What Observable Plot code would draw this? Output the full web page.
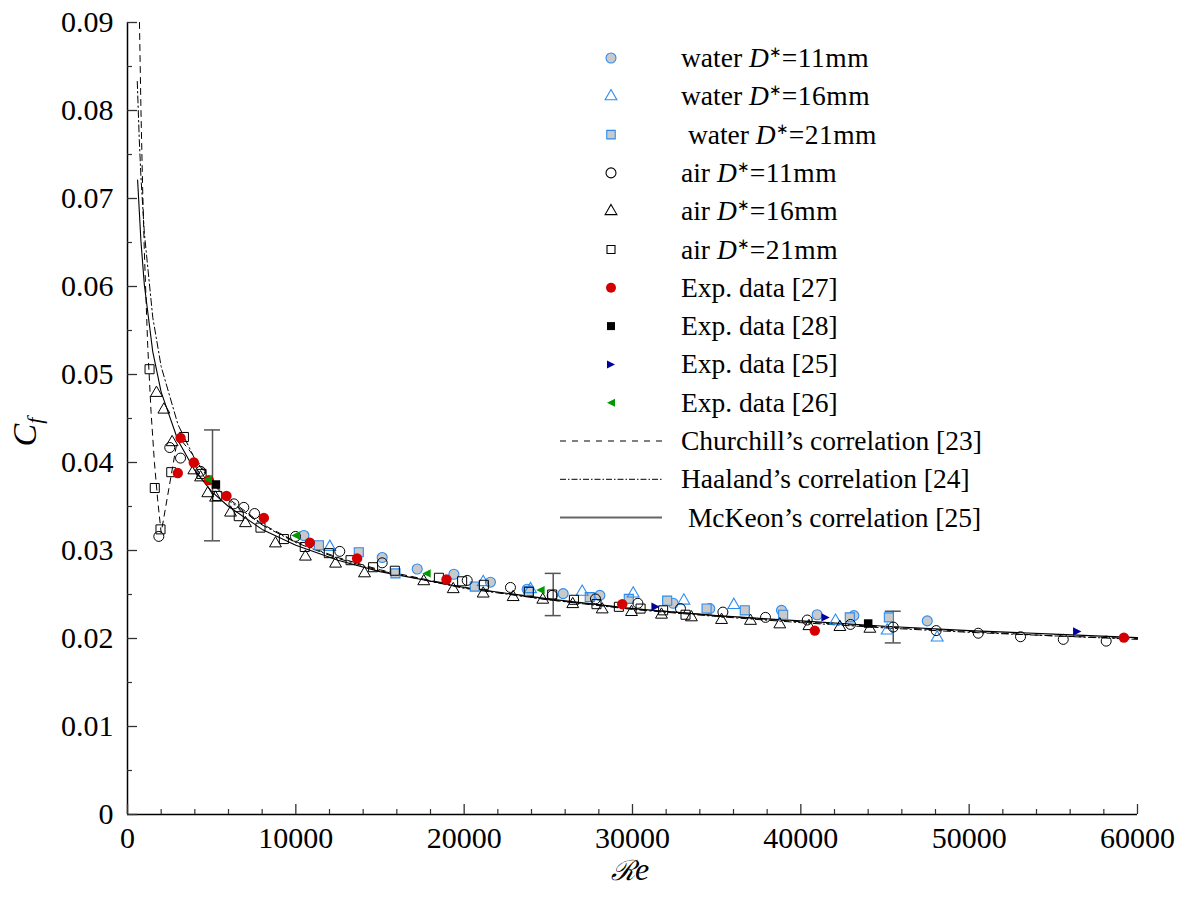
<!DOCTYPE html>
<html><head><meta charset="utf-8">
<script src="https://cdn.jsdelivr.net/npm/d3@7"></script>
<script src="https://cdn.jsdelivr.net/npm/@observablehq/plot@0.6"></script>
<style>body{margin:0;background:#fff}#chart{width:1183px;height:900px}</style>
</head><body><div id="chart"></div>
<script>
// ---------------- data (Re, Cf) ----------------
const waterD11 = [[10480,0.0317],[15130,0.0292],[17210,0.0279],[19390,0.0273],[21560,0.0264],[23740,0.0256],[25880,0.0251],[28060,0.0249],[32420,0.0240],[34590,0.0234],[38850,0.0232],[40970,0.0227],[43150,0.0226],[47510,0.0220]];
const waterD16 = [[12020,0.0304],[21130,0.0264],[23940,0.0256],[27010,0.0253],[30040,0.0251],[33050,0.0243],[36020,0.0238],[42060,0.0220],[45130,0.0209],[48100,0.0201]];
const waterD21 = [[11370,0.0306],[13740,0.0298],[15920,0.0274],[20630,0.0259],[23840,0.0254],[27460,0.0247],[29780,0.0245],[32060,0.0243],[34400,0.0234],[36670,0.0232],[38950,0.0227],[42910,0.0224],[45230,0.0224]];
const airD11 = [[1860,0.0316],[2510,0.0417],[3150,0.0405],[4340,0.0390],[6320,0.0353],[6910,0.0349],[7550,0.0342],[9980,0.0316],[12610,0.0299],[15130,0.0286],[20180,0.0266],[22750,0.0258],[25230,0.0249],[27800,0.0245],[30320,0.0240],[32850,0.0234],[35370,0.0230],[37900,0.0224],[40380,0.0221],[42950,0.0216],[45490,0.0213],[48040,0.0209],[50540,0.0206],[53050,0.0202],[55590,0.0199],[58140,0.0197]];
const airD16 = [[1720,0.0479],[2160,0.0460],[2650,0.0423],[3940,0.0391],[4340,0.0383],[4770,0.0365],[5230,0.0360],[6120,0.0343],[7010,0.0331],[8790,0.0308],[10570,0.0293],[12360,0.0285],[14080,0.0274],[17600,0.0265],[19350,0.0256],[21130,0.0251],[22910,0.0247],[24670,0.0244],[26450,0.0239],[28200,0.0233],[29940,0.0230],[31720,0.0227],[33500,0.0224],[35290,0.0221],[37010,0.0220],[38750,0.0216],[40480,0.0214],[42320,0.0213],[44100,0.0211]];
const airD21 = [[1310,0.0506],[1620,0.0371],[1960,0.0324],[2600,0.0389],[3350,0.0429],[4400,0.0387],[5330,0.0362],[6610,0.0339],[7900,0.0326],[9290,0.0313],[10530,0.0304],[11960,0.0297],[13250,0.0289],[14590,0.0281],[15880,0.0277],[18500,0.0269],[19880,0.0265],[21170,0.0261],[23840,0.0253],[25230,0.0250],[26520,0.0244],[27860,0.0239],[29190,0.0236],[30480,0.0234],[31820,0.0232],[33150,0.0227]];
const exp27 = [[2990,0.0388],[3150,0.0428],[3940,0.0400],[4830,0.0380],[5880,0.0362],[8100,0.0337],[10830,0.0309],[13640,0.0291],[18950,0.0267],[29390,0.0239],[40830,0.0209],[59190,0.0201]];
const exp28 = [[5250,0.0375],[44000,0.0217]];
const exp25 = [[31370,0.0236],[41470,0.0224],[56420,0.0208]];
const exp26 = [[4770,0.0381],[9980,0.0317],[17760,0.0274],[24530,0.0255]];

const errRe   = [5050, 25290, 45490];
const errLow  = [0.0311, 0.0226, 0.0195];
const errHigh = [0.0437, 0.0274, 0.0231];

const churchill = [[711,0.0900],[800,0.0800],[900,0.0711],[1000,0.0640],[1200,0.0533],[1400,0.0457],[1600,0.0400],[1800,0.0356],[2000,0.0320],[3000,0.0430],[4000,0.0406],[5000,0.0379],[6000,0.0359],[8000,0.0330],[10000,0.0310],[12500,0.0292],[15000,0.0278],[20000,0.0258],[25000,0.0244],[30000,0.0234],[35000,0.0226],[40000,0.0219],[45000,0.0213],[50000,0.0208],[55000,0.0203],[60000,0.0200]];
const haaland = [[580,0.0833],[700,0.0767],[800,0.0724],[1000,0.0661],[1500,0.0565],[2000,0.0509],[3000,0.0443],[4000,0.0404],[5000,0.0377],[6000,0.0357],[8000,0.0329],[10000,0.0309],[12500,0.0291],[15000,0.0277],[20000,0.0257],[25000,0.0244],[30000,0.0233],[35000,0.0225],[40000,0.0218],[45000,0.0212],[50000,0.0207],[55000,0.0203],[60000,0.0199]];
const mckeon = [[600,0.0721],[800,0.0651],[1000,0.0602],[1500,0.0526],[2000,0.0480],[3000,0.0425],[4000,0.0391],[5000,0.0367],[6000,0.0350],[8000,0.0324],[10000,0.0306],[12500,0.0289],[15000,0.0276],[20000,0.0258],[25000,0.0245],[30000,0.0234],[35000,0.0226],[40000,0.0220],[45000,0.0214],[50000,0.0209],[55000,0.0205],[60000,0.0201]];

const xMajor = [0,10000,20000,30000,40000,50000,60000];
const xMinor = [2000,4000,6000,8000,12000,14000,16000,18000,22000,24000,26000,28000,32000,34000,36000,38000,42000,44000,46000,48000,52000,54000,56000,58000];
const yMajor = [0,0.01,0.02,0.03,0.04,0.05,0.06,0.07,0.08,0.09];
const yMinor = [0.005,0.015,0.025,0.035,0.045,0.055,0.065,0.075,0.085];

const legendLabels = [
  ["water ","D","∗","=11mm"],["water ","D","∗","=16mm"],[" water ","D","∗","=21mm"],
  ["air ","D","∗","=11mm"],["air ","D","∗","=16mm"],["air ","D","∗","=21mm"],
  ["Exp. data [27]"],["Exp. data [28]"],["Exp. data [25]"],["Exp. data [26]"],
  ["Churchill’s correlation [23]"],["Haaland’s correlation [24]"],[" McKeon’s correlation [25]"]
];

// ---------------- chart ----------------
const W = 1183, H = 900, mL = 127, mR = 46, mT = 22, mB = 86;
const plotW = W - mL - mR, plotH = H - mT - mB;
const objs = a => a.map(([re, cf]) => ({re, cf}));
const errs = errRe.map((re, i) => ({re, lo: errLow[i], hi: errHigh[i]}));

const BLUE = "#2b8cf0", GRAY = "#c9c9c9";
const triRight = {draw(ctx, size){ const r = Math.sqrt(size/Math.PI); ctx.moveTo(r,0); ctx.lineTo(-r,-r); ctx.lineTo(-r,r); ctx.closePath(); }};
const triLeft  = {draw(ctx, size){ const r = Math.sqrt(size/Math.PI); ctx.moveTo(-r,0); ctx.lineTo(r,-r); ctx.lineTo(r,r); ctx.closePath(); }};

const font = "'Liberation Serif','Times New Roman',serif";

const chart = Plot.plot({
  width: W, height: H,
  marginLeft: mL, marginRight: mR, marginTop: mT, marginBottom: mB,
  x: {domain: [0, 60000]},
  y: {domain: [0, 0.09]},
  style: {background: "#fff", overflow: "visible", color: "#000", fontFamily: font},
  marks: [
    Plot.line(objs(churchill), {x: "re", y: "cf", stroke: "#000", strokeWidth: 1, strokeDasharray: "6,5"}),
    Plot.line(objs(haaland), {x: "re", y: "cf", stroke: "#000", strokeWidth: 1, strokeDasharray: "7,3,1.5,3"}),
    Plot.line(objs(mckeon), {x: "re", y: "cf", stroke: "#000", strokeWidth: 1.1}),
    Plot.ruleX(errs, {x: "re", y1: "lo", y2: "hi", stroke: "#555", strokeWidth: 1.5}),
    Plot.ruleY(errs, {y: "lo", x1: "re", x2: "re", insetLeft: -8, insetRight: -8, stroke: "#555", strokeWidth: 1.5}),
    Plot.ruleY(errs, {y: "hi", x1: "re", x2: "re", insetLeft: -8, insetRight: -8, stroke: "#555", strokeWidth: 1.5}),
    Plot.dot(objs(waterD11), {x: "re", y: "cf", symbol: "circle", r: 5, fill: GRAY, stroke: BLUE, strokeWidth: 1.1}),
    Plot.dot(objs(waterD21), {x: "re", y: "cf", symbol: "square", r: 5.1, fill: GRAY, stroke: BLUE, strokeWidth: 1.1}),
    Plot.dot(objs(waterD16), {x: "re", y: "cf", symbol: "triangle", r: 4.4, fill: "none", stroke: BLUE, strokeWidth: 1.1}),
    Plot.dot(objs(airD11), {x: "re", y: "cf", symbol: "circle", r: 5, fill: "none", stroke: "#000", strokeWidth: 1}),
    Plot.dot(objs(airD16), {x: "re", y: "cf", symbol: "triangle", r: 4.4, fill: "none", stroke: "#000", strokeWidth: 1}),
    Plot.dot(objs(airD21), {x: "re", y: "cf", symbol: "square", r: 5.1, fill: "none", stroke: "#000", strokeWidth: 1}),
    Plot.dot(objs(exp27), {x: "re", y: "cf", symbol: "circle", r: 5.2, fill: "#d40000", stroke: "none"}),
    Plot.dot(objs(exp28), {x: "re", y: "cf", symbol: "square", r: 4.8, fill: "#000", stroke: "none"}),
    Plot.dot(objs(exp25), {x: "re", y: "cf", symbol: triRight, r: 4.2, fill: "#00009c", stroke: "none"}),
    Plot.dot(objs(exp26), {x: "re", y: "cf", symbol: triLeft, r: 4.2, fill: "#009a00", stroke: "none"}),
    // axes
    Plot.ruleX([0], {stroke: "#000", strokeWidth: 1.5}),
    Plot.ruleY([0], {stroke: "#000", strokeWidth: 1.5}),
    Plot.tickX(xMajor, {x: d => d, insetTop: plotH - 10, stroke: "#333", strokeWidth: 1.3}),
    Plot.tickX(xMinor, {x: d => d, insetTop: plotH - 5, stroke: "#333", strokeWidth: 1.2}),
    Plot.tickY(yMajor, {y: d => d, insetRight: plotW - 10, stroke: "#333", strokeWidth: 1.3}),
    Plot.tickY(yMinor, {y: d => d, insetRight: plotW - 5, stroke: "#333", strokeWidth: 1.2}),
    Plot.axisX({ticks: xMajor, tickSize: 0, tickPadding: 12, fontSize: 30, tickFormat: d => String(d), label: null}),
    Plot.axisY({ticks: yMajor, tickSize: 0, tickPadding: 14, fontSize: 30, tickFormat: d => d === 0 ? "0" : d.toFixed(2), label: null})
  ]
});
document.getElementById("chart").appendChild(chart);

// ---------------- legend & axis titles ----------------
const svg = d3.select(chart);
const lg = svg.append("g").attr("font-size", 27.5).attr("fill", "#000").attr("text-anchor", "start");
const legendStyles = [
  {sym: d3.symbolCircle, size: 78, fill: GRAY, stroke: BLUE},
  {sym: d3.symbolTriangle, size: 60, fill: "#fff", stroke: BLUE},
  {sym: d3.symbolSquare, size: 72, fill: GRAY, stroke: BLUE},
  {sym: d3.symbolCircle, size: 78, fill: "#fff", stroke: "#000"},
  {sym: d3.symbolTriangle, size: 60, fill: "#fff", stroke: "#000"},
  {sym: d3.symbolSquare, size: 64, fill: "#fff", stroke: "#000"},
  {sym: d3.symbolCircle, size: 78, fill: "#d40000", stroke: "none"},
  {sym: d3.symbolSquare, size: 64, fill: "#000", stroke: "none"},
  {sym: triRight, size: 50, fill: "#00009c", stroke: "none"},
  {sym: triLeft, size: 50, fill: "#009a00", stroke: "none"},
  {line: "6,6", stroke: "#000", w: 1},
  {line: "6,2,1.5,2", stroke: "#000", w: 1},
  {line: null, stroke: "#666", w: 2}
];
legendLabels.forEach((parts, i) => {
  const y = 58 + 38.3 * i;
  const st = legendStyles[i];
  if (st.sym) {
    lg.append("path").attr("d", d3.symbol().type(st.sym).size(st.size)())
      .attr("transform", `translate(611,${y})`)
      .attr("fill", st.fill).attr("stroke", st.stroke).attr("stroke-width", 1.1);
  } else {
    lg.append("line").attr("x1", 560).attr("x2", 662).attr("y1", y).attr("y2", y)
      .attr("stroke", st.stroke).attr("stroke-width", st.w)
      .attr("stroke-dasharray", st.line);
  }
  const t = lg.append("text").attr("x", 681).attr("y", y + 9).attr("xml:space", "preserve");
  if (parts.length === 1) {
    t.text(parts[0]);
  } else {
    t.append("tspan").text(parts[0]);
    t.append("tspan").attr("font-style", "italic").text(parts[1]);
    t.append("tspan").attr("font-size", 15).attr("dy", -10).text(parts[2]);
    t.append("tspan").attr("dy", 10).attr("letter-spacing", 0.5).text(parts[3]);
  }
});

// x title
const xt = svg.append("text").attr("x", 630).attr("y", 880).attr("text-anchor", "middle")
  .attr("font-size", 32);
xt.append("tspan").attr("font-style", "italic").attr("font-size", 28).text("ℛ");
xt.append("tspan").attr("font-style", "italic").text("e");

// y title
const yt = svg.append("text").attr("transform", "translate(36,432) rotate(-90)").attr("text-anchor", "middle")
  .attr("font-size", 34).attr("font-style", "italic");
yt.append("tspan").text("C");
yt.append("tspan").attr("font-size", 22).attr("dy", 6).text("f");

// force the serif family on every text, overriding Plot's default stylesheet
svg.selectAll("text").style("font-family", font);
svg.style("font-family", font);
</script></body></html>
